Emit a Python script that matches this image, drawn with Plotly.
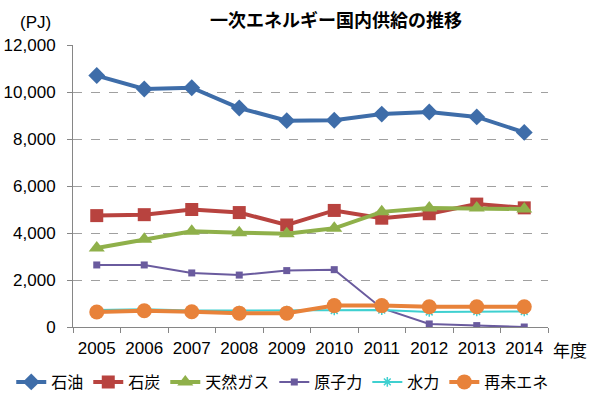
import plotly.graph_objects as go

years = ["2005", "2006", "2007", "2008", "2009", "2010", "2011", "2012", "2013", "2014"]
oil = [10700, 10130, 10180, 9320, 8780, 8800, 9060, 9150, 8940, 8280]
coal = [4740, 4780, 5000, 4870, 4340, 4960, 4630, 4820, 5230, 5070]
gas = [3360, 3730, 4070, 4010, 3970, 4200, 4900, 5060, 5060, 5020]
nuclear = [2640, 2640, 2300, 2210, 2400, 2440, 800, 130, 60, 0]
hydro = [720, 760, 700, 700, 700, 700, 720, 640, 660, 660]
renew = [640, 690, 650, 590, 590, 910, 910, 860, 860, 860]
y_ticks = [0, 2000, 4000, 6000, 8000, 10000, 12000]
y_labels = ["0", "2,000", "4,000", "6,000", "8,000", "10,000", "12,000"]
title_text = "一次エネルギー国内供給の推移"
unit_text = "(PJ)"
xunit_text = "年度"

series = [
    ("石油", oil, "#3E6DA9", "diamond", 13, 4),
    ("石炭", coal, "#B8433F", "square", 13, 4),
    ("天然ガス", gas, "#8FB04A", "triangle-up", 14, 4),
    ("原子力", nuclear, "#6A5B9E", "square", 7, 2),
    ("水力", hydro, "#3FD0D0", "asterisk-open", 8, 2),
    ("再未エネ", renew, "#E8823A", "circle", 15, 4),
]

num_font = "Liberation Sans, Arial, sans-serif"
jp_font = "Noto Sans CJK JP, sans-serif"

fig = go.Figure()
for name, vals, color, sym, size, lw in series:
    fig.add_trace(go.Scatter(
        x=years, y=vals, name=name, mode="lines+markers",
        line=dict(color=color, width=lw),
        marker=dict(symbol=sym, size=size, color=color,
                    line=dict(color=color, width=1.5 if sym == "asterisk-open" else 0)),
    ))

fig.update_layout(
    width=595, height=396,
    margin=dict(l=73, r=47, t=45, b=69, autoexpand=False),
    paper_bgcolor="white", plot_bgcolor="white",
    showlegend=True,
    legend=dict(orientation="h", x=-0.13, xanchor="left", y=-0.195, yanchor="middle",
                font=dict(family=jp_font, size=16, color="#000"),
                itemwidth=30, tracegroupgap=0, bgcolor="rgba(0,0,0,0)"),
    annotations=[
        dict(text="<b>" + title_text + "</b>", xref="paper", yref="paper", x=(336 - 73) / 475, y=(327 - 19) / 282,
             xanchor="center", yanchor="middle", showarrow=False,
             font=dict(family=jp_font, size=18, color="#000")),
        dict(text=unit_text, xref="paper", yref="paper", x=(35 - 73) / 475, y=(327 - 22) / 282,
             xanchor="center", yanchor="middle", showarrow=False,
             font=dict(family=num_font, size=17, color="#000")),
        dict(text=xunit_text, xref="paper", yref="paper", x=(570 - 73) / 475, y=(327 - 349) / 282,
             xanchor="center", yanchor="middle", showarrow=False,
             font=dict(family=jp_font, size=17, color="#000")),
    ],
)
fig.update_xaxes(
    type="category", range=[-0.5, len(years) - 0.5], showline=True, linecolor="#868686", linewidth=1,
    ticks="outside", tickson="boundaries", ticklen=5, tickcolor="#868686",
    tickfont=dict(family=num_font, size=17, color="#000"), tickangle=0,
    showgrid=False, zeroline=False, ticklabelstandoff=6,
)
fig.update_yaxes(
    range=[0, 12000], tickvals=y_ticks, ticktext=y_labels,
    showline=True, linecolor="#868686", linewidth=1,
    ticks="outside", ticklen=5, tickcolor="#868686",
    tickfont=dict(family=num_font, size=17, color="#000"),
    showgrid=True, gridcolor="#A0A0A0", griddash="dash", gridwidth=1,
    zeroline=False, ticklabelstandoff=8,
)
fig.write_html("out.html", config={"displayModeBar": False},
               post_script="document.body.style.margin='0px';")
